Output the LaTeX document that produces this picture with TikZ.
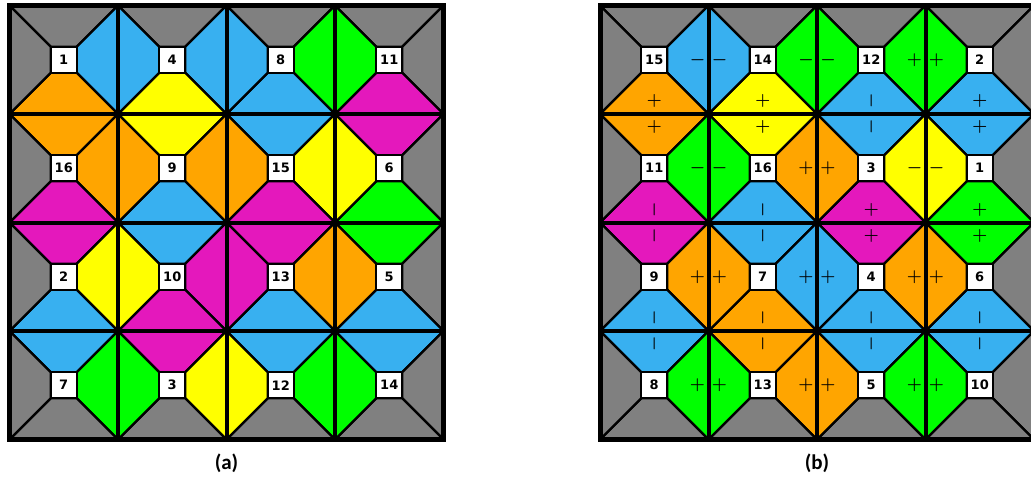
\documentclass[tikz,border=0pt]{standalone}
\usepackage{fontspec}
\setmainfont{DejaVu Sans}
\newfontfamily\capfont{Carlito}
\usepackage{tikz}
\usetikzlibrary{calc}
\definecolor{cgray}{RGB}{128,128,128}
\definecolor{cblue}{RGB}{56,176,240}
\definecolor{corange}{RGB}{255,165,0}
\definecolor{cyellow}{RGB}{255,255,0}
\definecolor{cgreen}{RGB}{0,255,0}
\definecolor{cmagenta}{RGB}{228,24,188}

\tikzset{
  face/.style={draw=black, line width=2.4pt, line join=round},
  numbox/.style={draw=black, fill=white, line width=2.4pt, minimum size=26pt,
    inner sep=0pt, font=\bfseries\fontsize{13}{13}\selectfont},
  sgn/.style={inner sep=0pt, font=\fontsize{17}{17}\selectfont\boldmath},
  gridline/.style={line width=4pt},
  frameline/.style={line width=5pt},
  caption/.style={font=\capfont\bfseries\fontsize{21}{21}\selectfont}
}

\begin{document}
\begin{tikzpicture}[x=1pt, y=-1pt]
\useasboundingbox (0,0) rectangle (1031,477);
\clip (0,0) rectangle (1031,477);

% (a) tiles: column/row/number/top/right/bottom/left
\foreach \c/\r/\n/\T/\R/\B/\L in {
  0/0/1/cgray/cblue/corange/cgray, 1/0/4/cgray/cblue/cyellow/cblue,
  2/0/8/cgray/cgreen/cblue/cblue, 3/0/11/cgray/cgray/cmagenta/cgreen,
  0/1/16/corange/corange/cmagenta/cgray, 1/1/9/cyellow/corange/cblue/corange,
  2/1/15/cblue/cyellow/cmagenta/corange, 3/1/6/cmagenta/cgray/cgreen/cyellow,
  0/2/2/cmagenta/cyellow/cblue/cgray, 1/2/10/cblue/cmagenta/cmagenta/cyellow,
  2/2/13/cmagenta/corange/cblue/cmagenta, 3/2/5/cgreen/cgray/cblue/corange,
  0/3/7/cblue/cgreen/cgray/cgray, 1/3/3/cmagenta/cyellow/cgray/cgreen,
  2/3/12/cblue/cgreen/cgray/cyellow, 3/3/14/cblue/cgray/cgray/cgreen} {
  \begin{scope}[shift={(9.5+108.5*\c, 5.5+108.5*\r)}]
    \filldraw[face, fill=\T] (0,0) -- (108.5,0) -- (67.25,41.25) -- (41.25,41.25) -- cycle;
    \filldraw[face, fill=\R] (108.5,0) -- (108.5,108.5) -- (67.25,67.25) -- (67.25,41.25) -- cycle;
    \filldraw[face, fill=\B] (108.5,108.5) -- (0,108.5) -- (41.25,67.25) -- (67.25,67.25) -- cycle;
    \filldraw[face, fill=\L] (0,108.5) -- (0,0) -- (41.25,41.25) -- (41.25,67.25) -- cycle;
    \node[numbox] (a-\n) at (54.25,54.25) {\n};
  \end{scope}
}

% (b) tiles, with the signs of top/right/bottom/left (0 = none)
\foreach \c/\r/\n/\T/\R/\B/\L/\sT/\sR/\sB/\sL in {
  0/0/15/cgray/cblue/corange/cgray/0/-/+/0,
  1/0/14/cgray/cgreen/cyellow/cblue/0/-/+/-,
  2/0/12/cgray/cgreen/cblue/cgreen/0/+/-/-,
  3/0/2/cgray/cgray/cblue/cgreen/0/0/+/+,
  0/1/11/corange/cgreen/cmagenta/cgray/+/-/-/0,
  1/1/16/cyellow/corange/cblue/cgreen/+/+/-/-,
  2/1/3/cblue/cyellow/cmagenta/corange/-/-/+/+,
  3/1/1/cblue/cgray/cgreen/cyellow/+/0/+/-,
  0/2/9/cmagenta/corange/cblue/cgray/-/+/-/0,
  1/2/7/cblue/cblue/corange/corange/-/+/-/+,
  2/2/4/cmagenta/corange/cblue/cblue/+/+/-/+,
  3/2/6/cgreen/cgray/cblue/corange/+/0/-/+,
  0/3/8/cblue/cgreen/cgray/cgray/-/+/0/0,
  1/3/13/corange/corange/cgray/cgreen/-/+/0/+,
  2/3/5/cblue/cgreen/cgray/corange/-/+/0/+,
  3/3/10/cblue/cgray/cgray/cgreen/-/0/0/+} {
  \begin{scope}[shift={(600+108.5*\c, 5.5+108.5*\r)}]
    \filldraw[face, fill=\T] (0,0) -- (108.5,0) -- (67.25,41.25) -- (41.25,41.25) -- cycle;
    \filldraw[face, fill=\R] (108.5,0) -- (108.5,108.5) -- (67.25,67.25) -- (67.25,41.25) -- cycle;
    \filldraw[face, fill=\B] (108.5,108.5) -- (0,108.5) -- (41.25,67.25) -- (67.25,67.25) -- cycle;
    \filldraw[face, fill=\L] (0,108.5) -- (0,0) -- (41.25,41.25) -- (41.25,67.25) -- cycle;
    \node[numbox] (b-\n) at (54.25,54.25) {\n};
    \if\sT0\else \node[sgn, rotate=90] (b-\n-t) at (54.25,13) {$\sT$}; \fi
    \if\sR0\else \node[sgn] (b-\n-r) at (97.5,54.25) {$\sR$}; \fi
    \if\sB0\else \node[sgn, rotate=90] (b-\n-b) at (54.25,95.5) {$\sB$}; \fi
    \if\sL0\else \node[sgn] (b-\n-l) at (11,54.25) {$\sL$}; \fi
  \end{scope}
}

% tile borders and outer frames
\foreach \gx in {9.5, 600} {
  \foreach \i in {1,2,3} {
    \draw[gridline] (\gx+108.5*\i, 5.5) -- (\gx+108.5*\i, 439.5);
    \draw[gridline] (\gx, 5.5+108.5*\i) -- (\gx+434, 5.5+108.5*\i);
  }
  \draw[frameline] (\gx, 5.5) rectangle (\gx+434, 439.5);
}

\node[caption] (cap-a) at (226.5,463) {(a)};
\node[caption] (cap-b) at (817,463) {(b)};
\end{tikzpicture}
\end{document}
